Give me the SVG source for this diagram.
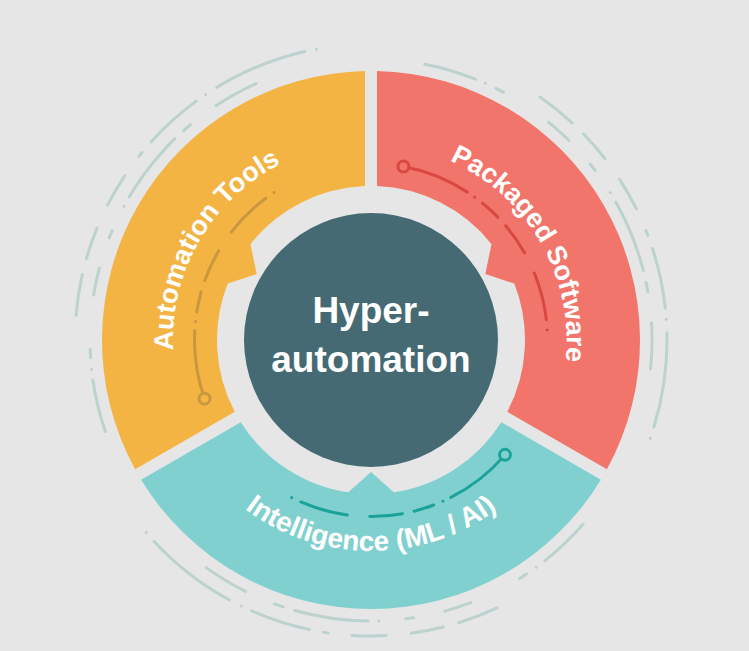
<svg xmlns="http://www.w3.org/2000/svg" width="749" height="651" viewBox="0 0 749 651">
  <style>
    .ring { fill: none; stroke: #BCD2CF; stroke-width: 3; stroke-linecap: round; }
    .track { fill: none; stroke-width: 3; stroke-linecap: round; stroke-dasharray: 22.5 2.9 0 3.2 6.7 3.8 10.7 7.3 15.7 3.3 0 283.9; }
    .knob { stroke-width: 3; }
    .label { font-family: "Liberation Sans", Arial, sans-serif; font-weight: bold; font-size: 27px; fill: #FFFFFF; }
    .title { font-family: "Liberation Sans", Arial, sans-serif; font-weight: bold; font-size: 37px; fill: #FFFFFF; text-anchor: middle; }
  </style>
  <defs>
    <path id="p-orange" d="M 272 511.5 A 198 198 0 0 1 470 168.5"/>
    <path id="p-red" d="M 272.5 169.4 A 197 197 0 0 1 469.5 510.6"/>
    <path id="p-teal" d="M 160 340 A 211 211 0 0 0 582 340"/>
  </defs>
  <rect x="0" y="0" width="749" height="651" fill="#E6E6E6"/>

  <g id="decor-rings">
    <circle class="ring" cx="371" cy="340" r="296" pathLength="360" transform="rotate(64.8 371 340)"
      stroke-dasharray="8 3.1 6.3 4.9 6.6 4.6 1 2.7 11.8 2.2 0 2.6 18.5 2.3 0 45.4"/>
    <circle class="ring" cx="371" cy="340" r="281" pathLength="360" transform="rotate(41 371 340)"
      stroke-dasharray="10.8 2.2 0 2.4 1.7 11.1 5.6 6.5 1.6 5.5 0 2.2 15.1 2.5 1.9 6.4 9.4 35.1"/>
  </g>

  <g id="node-automation-tools">
    <path fill="#F3B443" d="M 365 71.07 A 269 269 0 0 0 135.10 469.27 L 234.74 411.74 A 154 154 0 0 1 227.72 283.56 L 256.68 274 L 250.48 244.13 A 154 154 0 0 1 365 186.12 Z"/>
    <circle class="track" stroke="#C8973F" cx="371" cy="340" r="176.5" pathLength="360" transform="rotate(160.6 371 340)"/>
    <circle class="knob" cx="204.52" cy="398.63" r="5.5" fill="#F3B443" stroke="#C8973F"/>
    <text class="label"><textPath href="#p-orange" startOffset="50%" text-anchor="middle">Automation Tools</textPath></text>
  </g>

  <g id="node-packaged-software">
    <path fill="#F2756B" d="M 377 71.07 A 269 269 0 0 1 606.90 469.27 L 507.26 411.74 A 154 154 0 0 0 514.28 283.56 L 485.32 274 L 491.52 244.13 A 154 154 0 0 0 377 186.12 Z"/>
    <circle class="track" stroke="#D94840" cx="371" cy="340" r="176.5" pathLength="360" transform="rotate(280.6 371 340)"/>
    <circle class="knob" cx="403.47" cy="166.51" r="5.5" fill="#F2756B" stroke="#D94840"/>
    <text class="label"><textPath href="#p-red" startOffset="50%" text-anchor="middle">Packaged Software</textPath></text>
  </g>

  <g id="node-intelligence">
    <path fill="#80D0CF" d="M 600.90 479.67 A 269 269 0 0 1 141.10 479.67 L 240.74 422.14 A 154 154 0 0 0 348.24 492.31 L 371 472 L 393.76 492.31 A 154 154 0 0 0 501.26 422.14 Z"/>
    <circle class="track" stroke="#1AA39A" cx="371" cy="340" r="176.5" pathLength="360" transform="rotate(40.6 371 340)"/>
    <circle class="knob" cx="505.01" cy="454.86" r="5.5" fill="#80D0CF" stroke="#1AA39A"/>
    <text class="label" style="font-size:28px"><textPath href="#p-teal" startOffset="50%" text-anchor="middle">Intelligence (ML / AI)</textPath></text>
  </g>

  <g id="node-hyperautomation">
    <circle cx="371" cy="340" r="127" fill="#456A74"/>
    <text class="title" x="371" y="323">Hyper-</text>
    <text class="title" x="371" y="372">automation</text>
  </g>

  <g id="connectors"></g>
</svg>
